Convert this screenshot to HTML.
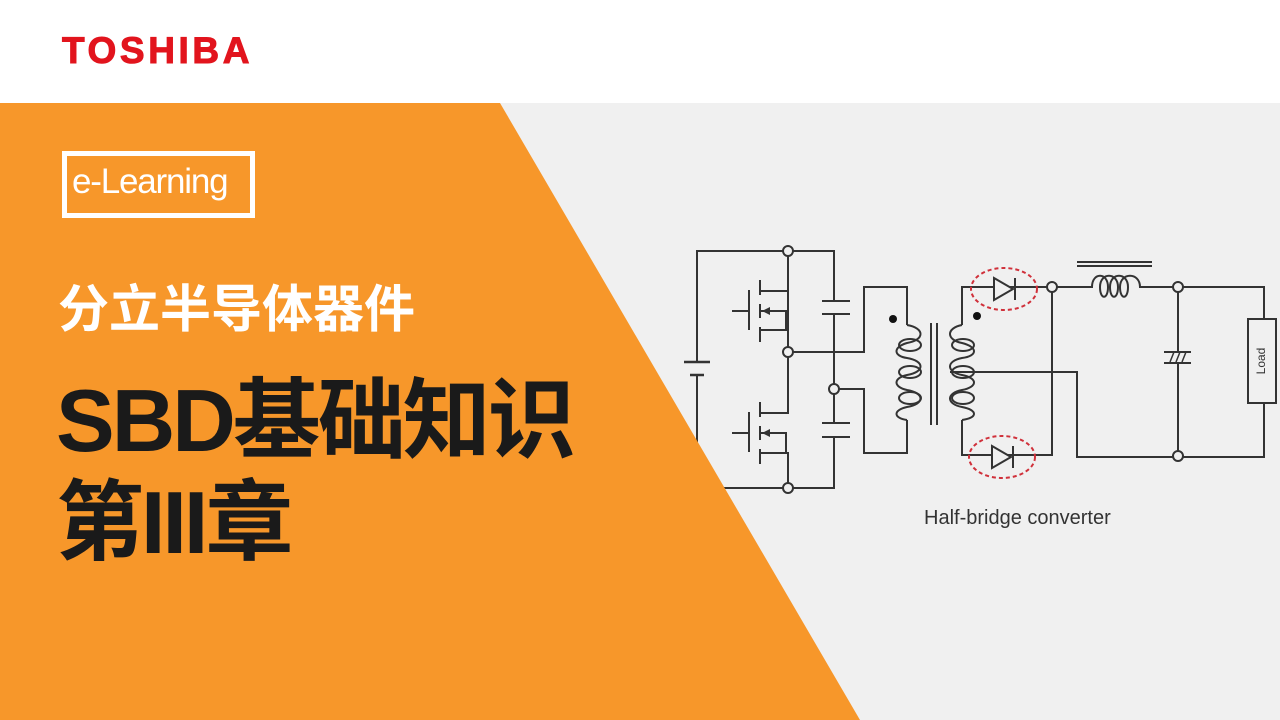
<!DOCTYPE html>
<html><head><meta charset="utf-8"><style>
html,body{margin:0;padding:0;width:1280px;height:720px;overflow:hidden;background:#fff;}
.abs{position:absolute;}
.cjk{font-family:"Liberation Sans","Noto Sans CJK SC",sans-serif;font-weight:bold;}
</style></head><body>
<div class="abs" style="left:0;top:103px;width:1280px;height:617px;background:#f0f0f0"></div>

<svg class="abs" style="left:0;top:0" width="1280" height="720" viewBox="0 0 1280 720" fill="none" stroke="#333" stroke-width="2">
<path d="M697 362 V251 H834 V301 M822 301 H850 M822 314 H850 M834 314 V423 M822 423 H850 M822 437 H850 M834 437 V488 H697 V375"/>
<path d="M684 362 H710 M690 375 H704" stroke-width="2.5"/>
<path d="M788 251 V291 H760 M760 280 V295 M760 304 V318 M760 327 V342 M749 290 V330 M732 311 H749 M760 311 H786 V330 M760 330 H788 V352 M788 291 V352"/>
<polygon points="762,311 770,307 770,315" fill="#333" stroke="none"/>
<path d="M788 352 V413 H760 M760 402 V417 M760 426 V440 M760 449 V464 M749 412 V452 M732 433 H749 M760 433 H786 V452 M760 453 H788 V488"/>
<polygon points="762,433 770,429 770,437" fill="#333" stroke="none"/>
<path d="M788 352 H864 V287 H907 V325 M834 389 H864 V453 H907 V420"/>
<path d="M907 325 C925 328 925 340 907 343 C893 347 893 356 907 358 C925 361 925 372 907 375 C893 378 893 387 907 390 C925 393 925 404 907 407 C893 410 893 418 907 420"/>
<ellipse cx="910" cy="345" rx="11" ry="6"/><ellipse cx="910" cy="372" rx="11" ry="6"/><ellipse cx="910" cy="398" rx="11" ry="6"/>
<circle cx="893" cy="319" r="4" fill="#111" stroke="none"/>
<path d="M931 323 V425 M937 323 V425"/>
<path d="M962 325 V287 H1052 V455 H962 V420"/>
<path d="M962 325 C946 328 946 340 962 343 C978 347 978 356 962 358 C946 361 946 372 962 375 C978 378 978 387 962 390 C946 393 946 404 962 407 C978 410 978 418 962 420"/>
<ellipse cx="963" cy="345" rx="11" ry="6"/><ellipse cx="963" cy="372" rx="11" ry="6"/><ellipse cx="963" cy="398" rx="11" ry="6"/>
<circle cx="977" cy="316" r="4" fill="#111" stroke="none"/>
<path d="M950 372 H1077 V457 H1264 V403 M1052 287 H1079"/>
<polygon points="994,278 994,300 1013,289" fill="#f0f0f0"/><path d="M1015 278 V300"/>
<polygon points="992,446 992,468 1011,457" fill="#f0f0f0"/><path d="M1013 446 V468"/>
<ellipse cx="1004" cy="289" rx="33" ry="21" stroke="#d0303a" stroke-dasharray="4 3"/>
<ellipse cx="1002" cy="457" rx="33" ry="21" stroke="#d0303a" stroke-dasharray="4 3"/>
<path d="M1077 262 H1152 M1077 266 H1152"/>
<path d="M1079 287 H1092 C1092 272 1108 272 1108 287 C1108 300 1100 300 1100 287 C1100 272 1118 272 1118 287 C1118 300 1110 300 1110 287 C1110 272 1128 272 1128 287 C1128 300 1120 300 1120 287 C1120 272 1140 272 1140 287 H1146 H1264 V319"/>
<path d="M1178 287 V352 M1178 363 V457 M1164 352 H1191 M1164 363 H1191"/>
<path d="M1170 362 L1174 352 M1176 362 L1180 352 M1182 362 L1186 352" stroke-width="1.5"/>
<rect x="1248" y="319" width="28" height="84" fill="#f0f0f0"/>
<g fill="#f0f0f0">
<circle cx="788" cy="251" r="5"/><circle cx="788" cy="352" r="5"/><circle cx="834" cy="389" r="5"/><circle cx="788" cy="488" r="5"/>
<circle cx="1052" cy="287" r="5"/><circle cx="1178" cy="287" r="5"/><circle cx="1178" cy="456" r="5"/>
</g>
<text x="1262" y="361" transform="rotate(-90 1262 361)" text-anchor="middle" dominant-baseline="middle" font-family="Liberation Sans,sans-serif" font-size="12" fill="#333" stroke="none">Load</text>
<text x="924" y="524" font-family="Liberation Sans,sans-serif" font-size="20" fill="#333" stroke="none">Half-bridge converter</text>
</svg>

<svg class="abs" style="left:0;top:0" width="1280" height="720" viewBox="0 0 1280 720">
<polygon points="0,103 500,103 860,720 0,720" fill="#f7972a"/>
</svg>
<div class="abs" style="left:62px;top:30px;font-family:'Liberation Sans',sans-serif;font-weight:bold;font-size:37px;color:#e2141d;letter-spacing:3.6px;line-height:42px;-webkit-text-stroke:1px #e2141d;">TOSHIBA</div>
<div class="abs" style="left:62px;top:151px;width:183px;height:57px;border:5px solid #fff;"></div>
<div class="abs" style="left:72px;top:158px;font-family:'Liberation Sans',sans-serif;font-size:35px;color:#fff;line-height:48px;letter-spacing:-1.2px">e-Learning</div>
<div class="abs cjk" style="left:58px;top:280px;font-size:51px;color:#fff;line-height:60px;">分立半导体器件</div>
<div class="abs cjk" style="left:56px;top:370px;font-size:88px;color:#1a1a1a;line-height:102px;letter-spacing:-3px">SBD基础知识<br>第III章</div>
</body></html>
